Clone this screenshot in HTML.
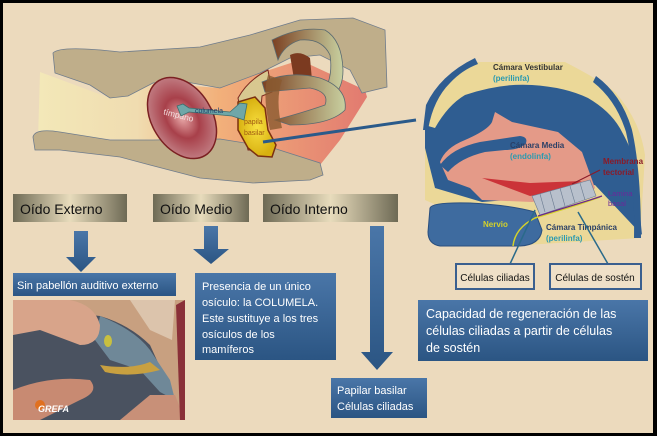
<!DOCTYPE html>
<html><head><meta charset="utf-8"><style>
html,body{margin:0;padding:0;background:#000}
svg{display:block}
text{font-family:"Liberation Sans",sans-serif}
</style></head><body>
<svg width="657" height="436" viewBox="0 0 657 436" xmlns="http://www.w3.org/2000/svg">
<defs>
<linearGradient id="hdr" x1="0" x2="1"><stop offset="0" stop-color="#6e6a55"/><stop offset="0.5" stop-color="#e8dcbc"/><stop offset="1" stop-color="#6e6a55"/></linearGradient>
<linearGradient id="blu" x1="0" y1="0" x2="0" y2="1"><stop offset="0" stop-color="#4a76a8"/><stop offset="1" stop-color="#2b5583"/></linearGradient>
<radialGradient id="tim"><stop offset="0" stop-color="#e8a8a8"/><stop offset="0.5" stop-color="#a8404a"/><stop offset="1" stop-color="#c07a80"/></radialGradient>
<linearGradient id="inner" x1="0" x2="1"><stop offset="0" stop-color="#f3e8b8"/><stop offset="0.3" stop-color="#f0dcb0"/><stop offset="0.55" stop-color="#f2b07a"/><stop offset="1" stop-color="#e27a70"/></linearGradient>
<linearGradient id="canal" x1="0" x2="1"><stop offset="0" stop-color="#7b4022"/><stop offset="1" stop-color="#c8d0a0"/></linearGradient>
<radialGradient id="pap"><stop offset="0" stop-color="#f8e040"/><stop offset="1" stop-color="#d8b010"/></radialGradient>
</defs>
<rect x="3" y="3" width="650" height="430" fill="#ecdabd"/>
<!-- ear drawing -->
<path d="M40 72 L110 98 L153 83 L220 88 L260 73 L300 60 L365 90 L367 97 L340 140 L320 165 L253 180 L150 142 L60 135 L38 140 Z" fill="url(#inner)"/>
<path d="M53 53 Q60 45 120 52 L200 47 L250 35 L300 20 L353 18 L385 30 L387 87 L362 93 L350 70 L320 55 L290 58 L260 73 L220 88 L175 80 L153 83 L128 96 L110 98 L90 85 L55 73 Z" fill="#bfae8a" stroke="#6f7c8c" stroke-width="0.8"/>
<path d="M33 137 Q35 128 60 132 L110 140 L153 140 L220 139 L270 147 L320 163 L323 175 L310 180 L253 183 L200 178 L150 165 L120 157 L60 150 L35 150 Z" fill="#bfae8a" stroke="#6f7c8c" stroke-width="0.8"/>
<ellipse cx="182" cy="118" rx="44" ry="30" transform="rotate(58 182 118)" fill="url(#tim)" stroke="#7b2022" stroke-width="1.5"/>
<text x="163" y="118" font-size="8.5" fill="#f4e0e0" transform="rotate(14 178 116)">tímpano</text>
<path d="M238 98 Q248 80 268 70 L272 92 L262 96 L257 150 L248 150 Z" fill="#d8c890" stroke="#7b2a20" stroke-width="1"/>
<path d="M238 102 L255 97 L265 108 L268 130 L276 145 L272 157 L258 156 L248 148 L238 130 Z" fill="url(#pap)" stroke="#7b3010" stroke-width="1.5"/>
<path d="M177 106 L183 104 L189 108 L230 112 L240 103 L247 104 L244 120 L232 116 L189 112 L181 116 Z" fill="#6fa7a8" stroke="#3d6e6e" stroke-width="0.8"/>
<text x="195" y="113" font-size="7" fill="#1e3d6a">columela</text>
<text x="244" y="124" font-size="7" fill="#a05a12">papila</text>
<text x="244" y="135" font-size="7" fill="#a05a12">basilar</text>
<!-- canals -->
<path d="M272 40 Q300 26 325 30 Q342 40 343 70 Q343 88 333 96 L325 90 Q333 75 330 55 Q322 38 300 40 Q284 45 278 60 Z" fill="url(#canal)" stroke="#5a6a70" stroke-width="0.8"/>
<path d="M290 55 Q300 50 310 58 L312 80 L295 85 Z" fill="#7b3a20"/>
<path d="M262 82 Q290 70 320 78 Q348 88 345 110 Q330 125 290 125 L275 120 Q305 112 325 105 Q330 92 310 88 L265 92 Z" fill="url(#canal)" stroke="#5a6a70" stroke-width="0.8"/>
<path d="M268 75 Q262 95 270 130 L282 128 Q275 100 282 80 Z" fill="#8a5a30" opacity="0.8"/>
<line x1="263" y1="142" x2="416" y2="120" stroke="#2a5a8a" stroke-width="3"/>
<!-- cochlea section -->
<path d="M425 122 Q440 70 475 62 L565 62 Q600 80 615 92 Q640 120 645 155 L640 238 L525 245 L425 200 Z" fill="#ebd898"/>
<path d="M425 148 L425 125 Q435 128 435 128 Q448 105 465 95 Q500 83 532 85 Q565 87 588 98 Q612 112 622 132 Q632 150 635 165 L642 235 L595 185 L532 198 L482 202 L435 188 Z" fill="#2f5d91"/>
<path d="M475 58 Q440 75 426 105 L423 130 L428 130 Q433 100 450 83 Q462 70 478 64 Z" fill="#2f5d91"/>
<path d="M596 76 Q622 95 632 130 Q641 170 641 238 L634 238 Q635 170 626 132 Q616 100 593 82 Z" fill="#2f5d91"/>
<path d="M440 162 Q445 148 465 140 Q488 130 492 122 L495 112 L512 122 L558 132 L582 152 L595 188 L588 195 L532 202 L482 200 L470 188 L448 180 Z" fill="#e49a88"/>
<path d="M440 165 Q452 148 480 142 L520 136 Q528 137 526 143 Q520 150 505 150 L485 152 Q460 158 448 172 Z" fill="#2f5d91"/>
<path d="M482 178 L530 183 L582 181 L560 191 L530 196 Z" fill="#c82830" opacity="0.9"/>
<path d="M532 196 L590 180 L596 196 L540 215 Z" fill="#b8c0cc" stroke="#6a7a90" stroke-width="0.6"/>
<g stroke="#6a7a90" stroke-width="0.6"><line x1="540" y1="194" x2="545" y2="212"/><line x1="550" y1="191" x2="555" y2="209"/><line x1="560" y1="188" x2="565" y2="206"/><line x1="570" y1="186" x2="575" y2="203"/><line x1="580" y1="183" x2="585" y2="200"/></g>
<path d="M430 208 Q432 202 470 203 Q510 205 535 212 L542 230 Q540 245 520 246 L440 246 Q428 244 428 232 Z" fill="#3e6b9f" stroke="#2a4f7f"/>
<path d="M513 246 Q515 228 535 218 L580 204 L600 197" fill="none" stroke="#d4d22a" stroke-width="1.5"/>
<path d="M538 216 L590 200 L602 196" fill="none" stroke="#6a2a8a" stroke-width="1.2"/>
<text x="493" y="70" font-size="8" font-weight="bold" fill="#333">Cámara Vestibular</text>
<text x="493" y="81" font-size="8" font-weight="bold" fill="#2a9ab0">(perilinfa)</text>
<text x="510" y="148" font-size="8" font-weight="bold" fill="#2a3f66">Cámara Media</text>
<text x="510" y="159" font-size="8" font-weight="bold" fill="#2a9ab0">(endolinfa)</text>
<text x="603" y="164" font-size="8" font-weight="bold" fill="#8a1a28">Membrana</text>
<text x="603" y="175" font-size="8" font-weight="bold" fill="#8a1a28">tectorial</text>
<line x1="600" y1="170" x2="572" y2="184" stroke="#8a1a28" stroke-width="1"/>
<text x="608" y="196" font-size="7.5" fill="#6a2a9a">Lamina</text>
<text x="608" y="206" font-size="7.5" fill="#6a2a9a">basal</text>
<text x="483" y="227" font-size="8" font-weight="bold" fill="#d4d22a">Nervio</text>
<text x="546" y="230" font-size="8" font-weight="bold" fill="#2a3f66">Cámara  Timpánica</text>
<text x="546" y="241" font-size="8" font-weight="bold" fill="#2a9ab0">(perilinfa)</text>
<line x1="510" y1="264" x2="535" y2="210" stroke="#2a6a8a" stroke-width="1.5"/>
<line x1="608" y1="264" x2="578" y2="212" stroke="#2a6a8a" stroke-width="1.5"/>
<rect x="456" y="264" width="78" height="25" fill="#efe0c8" stroke="#3a5f8f" stroke-width="2"/>
<text x="495" y="281" font-size="10" text-anchor="middle" fill="#111">Células ciliadas</text>
<rect x="550" y="264" width="91" height="25" fill="#efe0c8" stroke="#3a5f8f" stroke-width="2"/>
<text x="595" y="281" font-size="10" text-anchor="middle" fill="#111">Células de sostén</text>
<!-- headers -->
<rect x="13" y="194" width="114" height="28" fill="url(#hdr)"/>
<text x="20" y="214" font-size="14" fill="#111">Oído  Externo</text>
<rect x="153" y="194" width="96" height="28" fill="url(#hdr)"/>
<text x="160" y="214" font-size="14" fill="#111">Oído Medio</text>
<rect x="263" y="194" width="135" height="28" fill="url(#hdr)"/>
<text x="270" y="214" font-size="14" fill="#111">Oído Interno</text>
<!-- arrows -->
<path d="M74 231 L88 231 L88 257 L96 257 L81 272 L66 257 L74 257 Z" fill="url(#blu)"/>
<path d="M204 226 L218 226 L218 249 L229 249 L211 264 L193 249 L204 249 Z" fill="url(#blu)"/>
<path d="M370 226 L384 226 L384 352 L393 352 L377 370 L361 352 L370 352 Z" fill="url(#blu)"/>
<!-- blue boxes -->
<rect x="13" y="273" width="163" height="23" fill="url(#blu)"/>
<text x="17" y="289" font-size="11" fill="#fff">Sin pabellón auditivo externo</text>
<rect x="195" y="273" width="141" height="87" fill="url(#blu)"/>
<g font-size="11" fill="#fff"><text x="202" y="290">Presencia de un único</text><text x="202" y="306">osículo: la COLUMELA.</text><text x="202" y="322">Este sustituye a los tres</text><text x="202" y="338">osículos de los</text><text x="202" y="353">mamíferos</text></g>
<rect x="331" y="378" width="96" height="40" fill="url(#blu)"/>
<g font-size="11" fill="#fff"><text x="337" y="394">Papilar basilar</text><text x="337" y="410">Células ciliadas</text></g>
<rect x="418" y="300" width="230" height="61" fill="url(#blu)"/>
<g font-size="12.5" fill="#fff"><text x="426" y="318">Capacidad de regeneración  de las</text><text x="426" y="335">células ciliadas a partir de células</text><text x="426" y="352">de sostén</text></g>
<!-- photo -->
<rect x="13" y="300" width="172" height="120" fill="#c8a080"/>
<path d="M13 335 Q60 310 100 316 Q130 325 150 345 L175 400 L150 420 L13 420 Z" fill="#4a5260"/>
<path d="M100 316 Q135 330 150 350 L170 380 L175 400 L160 392 L140 370 L110 360 L95 340 Z" fill="#6f8898"/>
<path d="M13 300 L70 300 Q95 305 100 325 Q100 345 80 345 L40 330 L13 335 Z" fill="#d8a48a"/>
<path d="M13 390 Q50 375 90 380 Q100 392 80 400 L40 420 L13 420 Z" fill="#c88a72"/>
<path d="M120 420 L150 395 L175 395 L185 420 Z" fill="#c89078"/>
<path d="M176 305 L185 300 L185 420 L180 420 Z" fill="#8a3038"/>
<path d="M130 300 L175 300 L172 340 L150 330 Z" fill="#dcc4ac"/>
<path d="M100 365 Q130 370 150 362 L160 370 Q130 378 105 372 Z" fill="#c8a040"/>
<ellipse cx="108" cy="341" rx="4" ry="6" fill="#c8c040"/>
<circle cx="40" cy="405" r="5" fill="#e07020"/>
<text x="38" y="412" font-size="9" font-style="italic" font-weight="bold" fill="#fff">GREFA</text>
</svg>
</body></html>
